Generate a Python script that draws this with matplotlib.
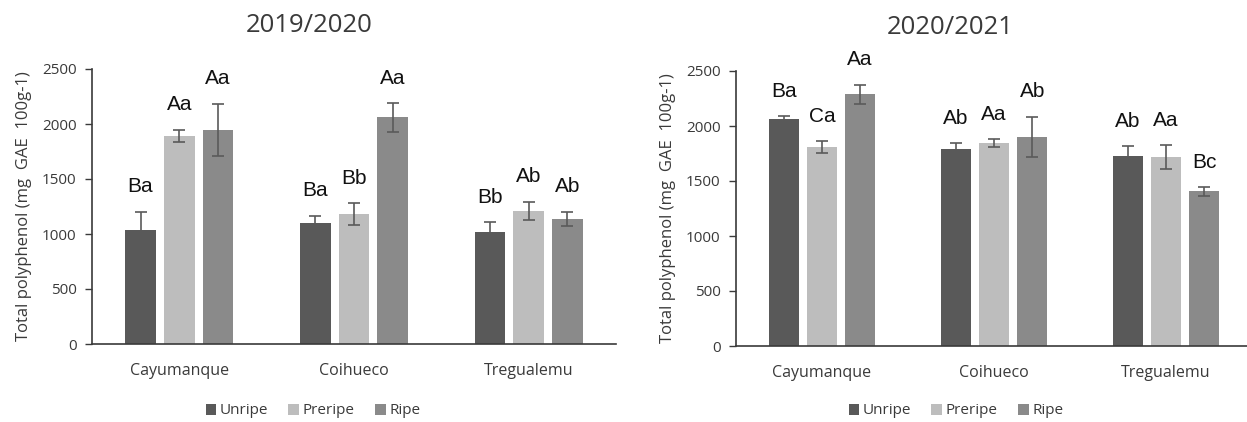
import numpy as np
import matplotlib
matplotlib.use("Agg")
import matplotlib.pyplot as plt

# data (mg GAE 100 g-1)
sites = ["Cayumanque", "Coihueco", "Tregualemu"]
stages = ["Unripe", "Preripe", "Ripe"]
colors = ["#595959", "#bdbdbd", "#8a8a8a"]

s1_vals = {
    "Unripe": [1036, 1097, 1021],
    "Preripe": [1891, 1182, 1209],
    "Ripe": [1948, 2061, 1136],
}
s1_err = {
    "Unripe": [167, 70, 85],
    "Preripe": [57, 97, 85],
    "Ripe": [238, 130, 67],
}
s1_letters = {
    "Unripe": ["Ba", "Ba", "Bb"],
    "Preripe": ["Aa", "Bb", "Ab"],
    "Ripe": ["Aa", "Aa", "Ab"],
}

s2_vals = {
    "Unripe": [2062, 1789, 1731],
    "Preripe": [1807, 1846, 1719],
    "Ripe": [2288, 1901, 1405],
}
s2_err = {
    "Unripe": [27, 57, 85],
    "Preripe": [54, 36, 109],
    "Ripe": [88, 184, 42],
}
s2_letters = {
    "Unripe": ["Ba", "Ab", "Ab"],
    "Preripe": ["Ca", "Aa", "Aa"],
    "Ripe": ["Aa", "Ab", "Bc"],
}

ylabel = "Total polyphenol (mg  GAE  100g-1)"
yticks = [0, 500, 1000, 1500, 2000, 2500]

TXT = "Open Sans"
LET = "Liberation Sans"
GREY = "#3a3a3a"

fig = plt.figure(figsize=(12.47, 4.22), dpi=100)


def draw_panel(ax, vals, errs, letters):
    x = np.arange(len(sites))
    width = 0.175
    step = 0.222
    for i, st in enumerate(stages):
        pos = x + (i - 1) * step
        ax.bar(pos, vals[st], width, color=colors[i], label=st, zorder=2)
        ax.errorbar(pos, vals[st], yerr=errs[st], fmt="none", ecolor="#5a5a5a",
                    elinewidth=1.2, capsize=4.5, capthick=1.2, zorder=3)
        for p, v, e, t in zip(pos, vals[st], errs[st], letters[st]):
            ax.annotate(t, (p, v + e), xytext=(0, 11), textcoords="offset points",
                        ha="center", va="bottom", fontsize=15, family=LET,
                        color="#111111", annotation_clip=False)
    ax.set_xlim(-0.5, len(sites) - 0.5)
    ax.set_ylim(0, 2500)
    ax.set_yticks(yticks)
    ax.set_xticks(x)
    ax.set_xticklabels(sites, family=TXT, fontsize=11.5, color=GREY)
    ax.tick_params(axis="x", length=0, pad=14)
    ax.tick_params(axis="y", length=5, width=1, color=GREY, pad=6,
                   labelsize=11, labelcolor=GREY)
    for lab in ax.get_yticklabels():
        lab.set_family(TXT)
    for side in ["top", "right"]:
        ax.spines[side].set_visible(False)
    ax.spines["left"].set_color(GREY)
    ax.spines["bottom"].set_color(GREY)
    ax.spines["left"].set_linewidth(1.2)
    ax.spines["bottom"].set_linewidth(1.2)
    ax.set_ylabel(ylabel, family=TXT, fontsize=12, color=GREY, labelpad=7)


ax1 = fig.add_axes([92 / 1247, 78 / 422, 524 / 1247, 275 / 422])
draw_panel(ax1, s1_vals, s1_err, s1_letters)
ax2 = fig.add_axes([736 / 1247, 76 / 422, 516 / 1247, 275 / 422])
draw_panel(ax2, s2_vals, s2_err, s2_letters)

fig.text(309 / 1247, 1 - 26 / 422, "2019/2020", ha="center", va="center",
         family=TXT, fontsize=18.5, color=GREY)
fig.text(950 / 1247, 1 - 27 / 422, "2020/2021", ha="center", va="center",
         family=TXT, fontsize=18.5, color=GREY)

for ax, cx in [(ax1, 313), (ax2, 956)]:
    handles, labels = ax.get_legend_handles_labels()
    leg = fig.legend(handles, labels, loc="center", ncol=3, frameon=False,
                     bbox_to_anchor=(cx / 1247, 1 - 411 / 422),
                     handlelength=0.7, handleheight=0.7, handletextpad=0.25,
                     columnspacing=1.3, prop={"family": TXT, "size": 11})
    for t in leg.get_texts():
        t.set_color(GREY)

fig.savefig("out.png", dpi=100)
